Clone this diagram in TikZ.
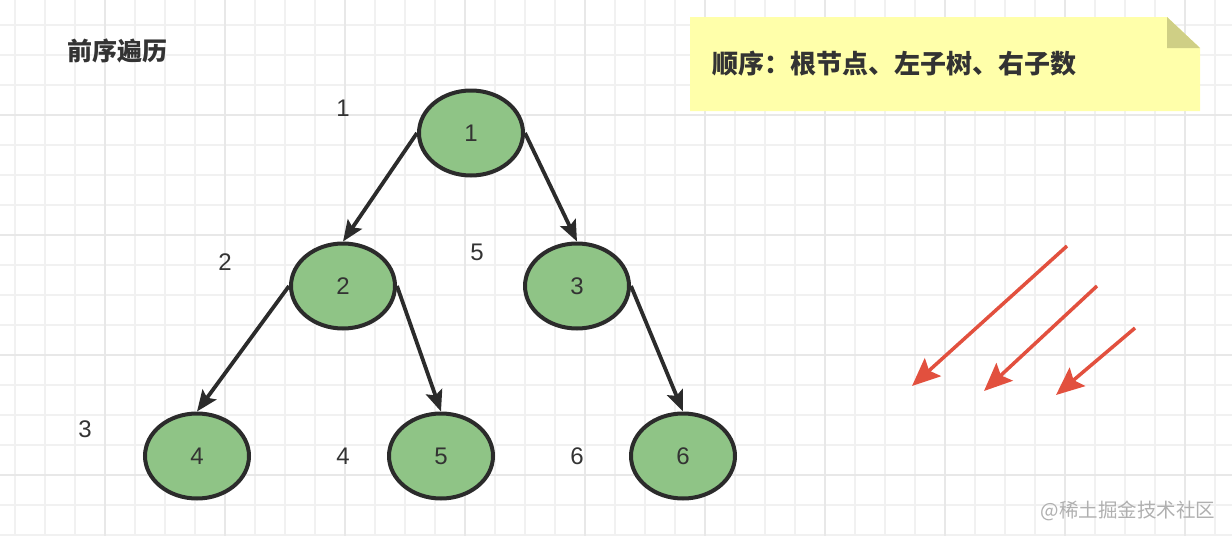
\documentclass[tikz,border=0pt]{standalone}
\usepackage{fontspec}
\setmainfont{Liberation Sans}
\newfontfamily\cjk{Noto Sans CJK SC}
\usepackage{tikz}
\usetikzlibrary{arrows.meta, shapes.geometric}
\definecolor{nodefill}{HTML}{8FC486}
\definecolor{edgecol}{HTML}{2B2B2B}
\definecolor{textcol}{HTML}{333333}
\definecolor{notefill}{HTML}{FFFFAA}
\definecolor{notefold}{HTML}{CFCF85}
\definecolor{redarrow}{HTML}{E2503E}
\definecolor{gridthin}{HTML}{F1F1F1}
\definecolor{gridthick}{HTML}{E8E8E8}
\definecolor{markgray}{HTML}{B0B0B0}
\tikzset{
  tree node/.style={
    ellipse,
    draw=edgecol,
    line width=4pt,
    fill=nodefill,
    minimum width=104pt,
    minimum height=85pt,
    inner sep=0pt,
    font=\fontsize{24}{28}\selectfont,
    text=textcol
  },
  tree edge/.style={
    -{Stealth[length=21pt,width=17pt,inset=4pt]},
    line width=3.8pt,
    draw=edgecol
  },
  order label/.style={
    font=\fontsize{24}{28}\selectfont,
    text=textcol
  },
  hint arrow/.style={
    -{Stealth[length=28pt,width=24pt,inset=5pt]},
    line width=3.5pt,
    draw=redarrow
  },
  cjk text/.style={
    font=\cjk\bfseries\fontsize{25}{30}\selectfont,
    text=textcol
  }
}

\begin{document}
\begin{tikzpicture}[x=1pt, y=-1pt]
  \useasboundingbox (0,0) rectangle (1232,536);
  \fill[white] (0,0) rectangle (1232,536);
  % grid
  \foreach \x in {15,45,...,1215} \draw[gridthin, line width=1.5pt] (\x,0) -- (\x,536);
  \foreach \y in {25,55,...,535} \draw[gridthin, line width=1.5pt] (0,\y) -- (1232,\y);
  \foreach \x in {105,225,...,1185} \draw[gridthick, line width=1.5pt] (\x,0) -- (\x,536);
  \foreach \y in {115,235,355,475} \draw[gridthick, line width=1.5pt] (0,\y) -- (1232,\y);

  \node[cjk text, anchor=west] (title) at (64,51) {前序遍历};

  % note
  \fill[notefill] (690,17) -- (1167,17) -- (1200,48) -- (1200,111) -- (690,111) -- cycle;
  \fill[notefold] (1167,17) -- (1200,48) -- (1167,48) -- cycle;
  \node[cjk text, font=\cjk\bfseries\fontsize{26}{30}\selectfont, anchor=west] (note) at (709,64) {顺序：根节点、左子树、右子数};

  % tree
  \node[tree node] (n1) at (471,133) {1};
  \node[tree node] (n2) at (343,286) {2};
  \node[tree node] (n3) at (577,286) {3};
  \node[tree node] (n4) at (197,456) {4};
  \node[tree node] (n5) at (441,456) {5};
  \node[tree node] (n6) at (683,456) {6};

  \draw[tree edge] (n1.west) -- (n2.north);
  \draw[tree edge] (n1.east) -- (n3.north);
  \draw[tree edge] (n2.west) -- (n4.north);
  \draw[tree edge] (n2.east) -- (n5.north);
  \draw[tree edge] (n3.east) -- (n6.north);

  % visiting order
  \node[order label] (o1) at (343,108) {1};
  \node[order label] (o2) at (225,262) {2};
  \node[order label] (o3) at (85,429) {3};
  \node[order label] (o4) at (343,456) {4};
  \node[order label] (o5) at (477,252) {5};
  \node[order label] (o6) at (577,456) {6};

  % red arrows
  \coordinate (a1s) at (1067,246);
  \coordinate (a1e) at (912,386);
  \coordinate (a2s) at (1097,286);
  \coordinate (a2e) at (984,391);
  \coordinate (a3s) at (1135,328);
  \coordinate (a3e) at (1056,395);
  \draw[hint arrow] (a1s) -- (a1e);
  \draw[hint arrow] (a2s) -- (a2e);
  \draw[hint arrow] (a3s) -- (a3e);

  \node[font=\cjk\fontsize{19.5}{23}\selectfont, text=markgray] (mark) at (1128,511) {@稀土掘金技术社区};
\end{tikzpicture}
\end{document}
